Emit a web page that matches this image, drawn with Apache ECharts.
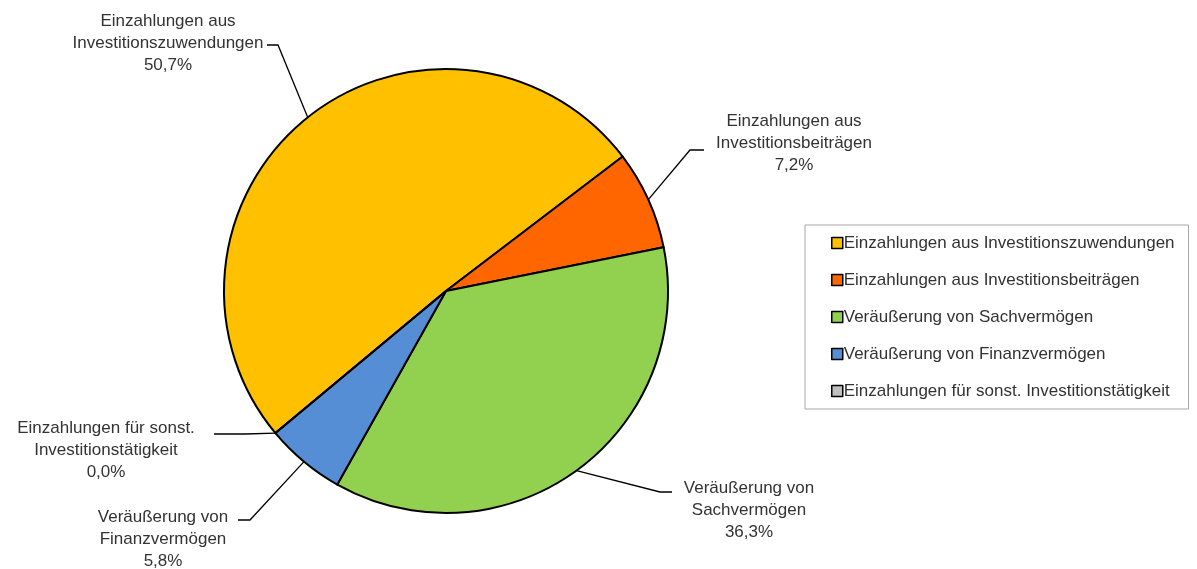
<!DOCTYPE html>
<html>
<head>
<meta charset="utf-8">
<script src="https://cdn.jsdelivr.net/npm/echarts@6/dist/echarts.min.js"></script>
<style>html,body{margin:0;padding:0;background:#fff;}#chart{width:1197px;height:569px;}</style>
</head>
<body>
<div id="chart"></div>
<script>
// Data
var categories = [
  'Einzahlungen aus Investitionszuwendungen',
  'Einzahlungen aus Investitionsbeiträgen',
  'Veräußerung von Sachvermögen',
  'Veräußerung von Finanzvermögen',
  'Einzahlungen für sonst. Investitionstätigkeit'
];
var labelTexts = [
  'Einzahlungen aus\nInvestitionszuwendungen',
  'Einzahlungen aus\nInvestitionsbeiträgen',
  'Veräußerung von\nSachvermögen',
  'Veräußerung von\nFinanzvermögen',
  'Einzahlungen für sonst.\nInvestitionstätigkeit'
];
var shares = [50.7, 7.2, 36.3, 5.8, 0.0];
var colors = ['#FFC000', '#FF6600', '#92D050', '#558ED5', '#BFBFBF'];

// Label placement (layout only)
var labelPos = [
  {x: 168, y: 43, elbow: [278, 45], end: [267, 45]},
  {x: 794, y: 143, elbow: [690, 150], end: [704, 150]},
  {x: 749, y: 510, elbow: [660, 492], end: [672, 492]},
  {x: 163, y: 539, elbow: [250, 520], end: [238, 520]},
  {x: 106, y: 450, elbow: [245, 434], end: [214, 434]}
];

var FONT = 'Liberation Sans';
var TEXT_COLOR = '#333333';
var chart = echarts.init(document.getElementById('chart'), null, {renderer: 'canvas'});
var data = categories.map(function (c, i) {
  return {name: c, value: shares[i], itemStyle: {color: colors[i]}};
});
chart.setOption({
  animation: false,
  legend: {
    orient: 'vertical',
    left: 805, top: 225,
    padding: [9, 14, 9, 26],
    borderColor: '#A6A6A6', borderWidth: 1,
    itemWidth: 11, itemHeight: 11, itemGap: 19,
    icon: 'rect',
    itemStyle: {borderColor: '#000', borderWidth: 1.5},
    textStyle: {fontFamily: FONT, fontSize: 17, color: TEXT_COLOR, lineHeight: 18, padding: [0, 0, 0, -4]},
    data: categories
  },
  series: [{
    type: 'pie',
    center: [446, 291],
    radius: 222,
    startAngle: 219.8,
    clockwise: true,
    avoidLabelOverlap: false,
    stillShowZeroSum: true,
    data: data,
    itemStyle: {borderColor: '#000', borderWidth: 2},
    emphasis: {disabled: true},
    label: {
      show: true,
      position: 'outside',
      fontFamily: FONT, fontSize: 17, color: TEXT_COLOR, lineHeight: 22,
      align: 'center',
      formatter: function (p) {
        return labelTexts[p.dataIndex] + '\n' + p.value.toFixed(1).replace('.', ',') + '%';
      }
    },
    labelLine: {show: true, length: 10, length2: 10, lineStyle: {color: '#000', width: 1.3}},
    labelLayout: function (params) {
      var lp = labelPos[params.dataIndex];
      var p0 = params.labelLinePoints ? params.labelLinePoints[0] : lp.elbow;
      return {
        x: lp.x, y: lp.y,
        align: 'center', verticalAlign: 'middle',
        labelLinePoints: [p0, lp.elbow, lp.end]
      };
    }
  }]
});
</script>
</body>
</html>
